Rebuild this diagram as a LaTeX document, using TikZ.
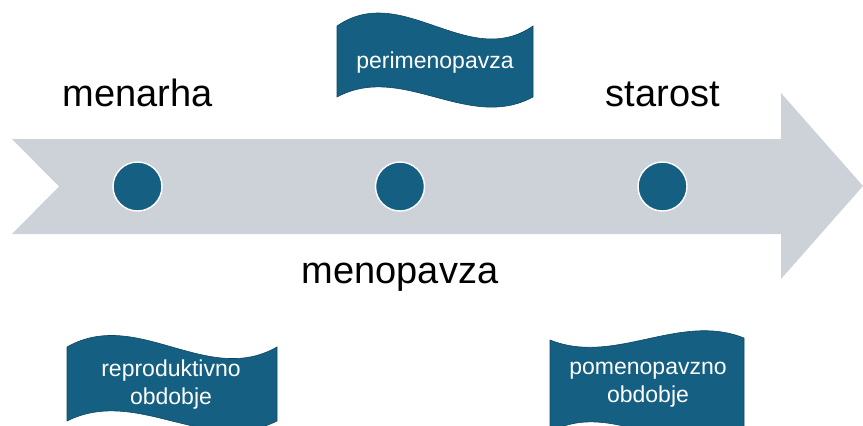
\documentclass[tikz,border=0pt]{standalone}
\usepackage{fontspec}
\setmainfont{Liberation Sans}
\definecolor{accblue}{HTML}{156082}
\definecolor{accedge}{HTML}{0F4761}
\definecolor{arrowgray}{RGB}{205,210,216}
\tikzset{
  bigarrow/.style={fill=arrowgray, draw=none},
  dot/.style={circle, fill=accblue, draw=white, line width=1.4pt, minimum size=49pt, inner sep=0pt},
  biglabel/.style={anchor=base, inner sep=0pt, text=black, font=\fontsize{38}{44}\selectfont},
  wavebox/.style={fill=accblue, draw=accedge, line width=0.6pt},
  wavetext/.style={inner sep=0pt, text=white, align=center, font=\fontsize{23}{28}\selectfont}
}
\begin{document}
\begin{tikzpicture}[x=1pt, y=-1pt]
\useasboundingbox (0,0) rectangle (863,426);
\begin{scope}
\clip (0,0) rectangle (863,426);
% timeline arrow
\fill[bigarrow] (12,139) -- (781,139) -- (781,93) -- (863,186) -- (781,279) -- (781,234) -- (12,234) -- (59,186.5) -- cycle;
% wave banners
\draw[wavebox] (337,26) .. controls (402.3,-19) and (467.7,71) .. (533,26)
  -- (533,97) .. controls (467.7,132) and (402.3,62) .. (337,97) -- cycle;
\draw[wavebox] (67,347) .. controls (137,307) and (207,387) .. (277,347)
  -- (277,421) .. controls (207,456) and (137,386) .. (67,421) -- cycle;
\draw[wavebox] (550,340) .. controls (614.7,366) and (679.3,312) .. (744,338)
  -- (744,432) .. controls (679.3,467) and (614.7,397) .. (550,432) -- cycle;
\end{scope}
% points
\node[dot] (d1) at (137.5,186.5) {};
\node[dot] (d2) at (400,186.5) {};
\node[dot] (d3) at (662.5,186.5) {};
% labels
\node[biglabel] (menarha) at (137.5,106) {menarha};
\node[biglabel] (starost) at (663,106) {starost};
\node[biglabel] (menopavza) at (400,283) {menopavza};
\node[wavetext, anchor=base] (peri) at (435,68) {perimenopavza};
\node[wavetext] (repro) at (171,385) {reproduktivno\\obdobje};
\node[wavetext] (pomeno) at (648,385) {pomenopavzno\\obdobje};
\end{tikzpicture}
\end{document}
